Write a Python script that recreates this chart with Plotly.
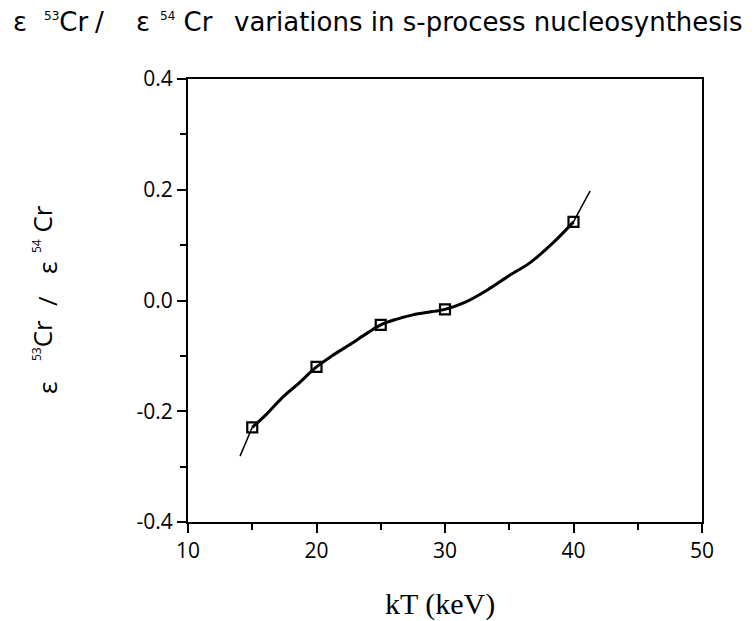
import plotly.graph_objects as go

# Data
kT_points = [15, 20, 25, 30, 40]
ratio_points = [-0.229, -0.120, -0.044, -0.016, 0.142]

# fitted curve (thick part between measured points)
fit_x = [15, 16, 17.4, 18.5, 20, 21.2, 22.5, 24, 25, 26.2, 27.5, 29, 30, 31.5, 33.3, 35, 36.6, 38.4, 40]
fit_y = [-0.229, -0.208, -0.174, -0.152, -0.120, -0.100, -0.081, -0.058, -0.044, -0.034, -0.026, -0.020, -0.016, -0.004, 0.019, 0.045, 0.068, 0.104, 0.142]

# thin extrapolated ends
low_x = [14.05, 15]
low_y = [-0.281, -0.229]
high_x = [40, 40.6, 41.3]
high_y = [0.142, 0.168, 0.198]

x_ticks = [10, 20, 30, 40, 50]
y_ticks = [-0.4, -0.2, 0.0, 0.2, 0.4]
y_tick_labels = ["-0.4", "-0.2", "0.0", "0.2", "0.4"]

# plot area in page pixels (used to place text annotations)
PX0, PX1, PY0, PY1 = 188, 702, 79, 522


def px(x):
    return (x - PX0) / (PX1 - PX0)


def py(y):
    return (PY1 - y) / (PY1 - PY0)


fig = go.Figure()
fig.add_trace(go.Scatter(x=fit_x, y=fit_y, mode="lines", line=dict(color="black", width=3, shape="spline"), showlegend=False))
fig.add_trace(go.Scatter(x=low_x, y=low_y, mode="lines", line=dict(color="black", width=1.5), showlegend=False))
fig.add_trace(go.Scatter(x=high_x, y=high_y, mode="lines", line=dict(color="black", width=1.5, shape="spline"), showlegend=False))
fig.add_trace(go.Scatter(x=kT_points, y=ratio_points, mode="markers",
                         marker=dict(symbol="square-open", size=10, color="black", line=dict(width=2.2)),
                         showlegend=False))

fig.update_layout(
    width=756, height=621,
    paper_bgcolor="white", plot_bgcolor="white",
    margin=dict(l=180, r=62, t=71, b=107),
    font=dict(family="Open Sans, sans-serif", color="black"),
)

nb = "\u00a0"
SUP = '<sup><span style="font-size:12px">{}</span></sup>'

# chart title, pieces placed left to right
title_font = dict(size=26, family="DejaVu Sans, sans-serif", color="black")
title_pieces = [
    ("ε", 11, "left"),
    (SUP.format("53") + "Cr", 42, "left"),
    ("/", 93, "left"),
    ("ε", 134, "left"),
    (SUP.format("54") + nb + "Cr", 158, "left"),
    ("variations in s-process nucleosynthesis", 745, "right"),
]
for txt, xpos, anc in title_pieces:
    fig.add_annotation(text=txt, xref="paper", yref="paper", x=px(xpos), y=py(22),
                       xanchor=anc, yanchor="middle", showarrow=False, font=title_font)

# y axis title, rotated pieces placed bottom to top
ytitle_font = dict(size=26, family="Open Sans, sans-serif", color="black")
ytitle_pieces = [
    ("ε", 47, 388),
    (SUP.format("53") + "Cr", 42, 341),
    ("/", 47, 301),
    ("ε", 47, 268),
    (SUP.format("54") + nb + "Cr", 42, 229),
]
for txt, xpos, ypos in ytitle_pieces:
    fig.add_annotation(text=txt, xref="paper", yref="paper", x=px(xpos), y=py(ypos),
                       xanchor="center", yanchor="middle", textangle=-90, showarrow=False, font=ytitle_font)

# x axis title
fig.add_annotation(text="kT (keV)", xref="paper", yref="paper", x=px(440), y=py(604),
                   xanchor="center", yanchor="middle", showarrow=False,
                   font=dict(size=30, family="Liberation Serif, Times New Roman, serif", color="black"))

fig.update_xaxes(range=[10, 50], tickvals=x_ticks, ticks="outside", ticklen=9, tickwidth=2, tickcolor="black",
                 showline=True, linewidth=2, linecolor="black", mirror=True, showgrid=False, zeroline=False,
                 tickfont=dict(size=21, family="Open Sans, sans-serif"),
                 minor=dict(dtick=5, tick0=10, ticks="outside", ticklen=6, tickwidth=2, tickcolor="black", showgrid=False))
fig.update_yaxes(range=[-0.4, 0.4], tickvals=y_ticks, ticktext=y_tick_labels, ticks="outside", ticklen=9, tickwidth=2,
                 tickcolor="black", showline=True, linewidth=2, linecolor="black", mirror=True, showgrid=False,
                 zeroline=False, tickfont=dict(size=21, family="Open Sans, sans-serif"),
                 minor=dict(dtick=0.1, tick0=-0.4, ticks="outside", ticklen=6, tickwidth=2, tickcolor="black", showgrid=False))

fig.write_html("out.html")
